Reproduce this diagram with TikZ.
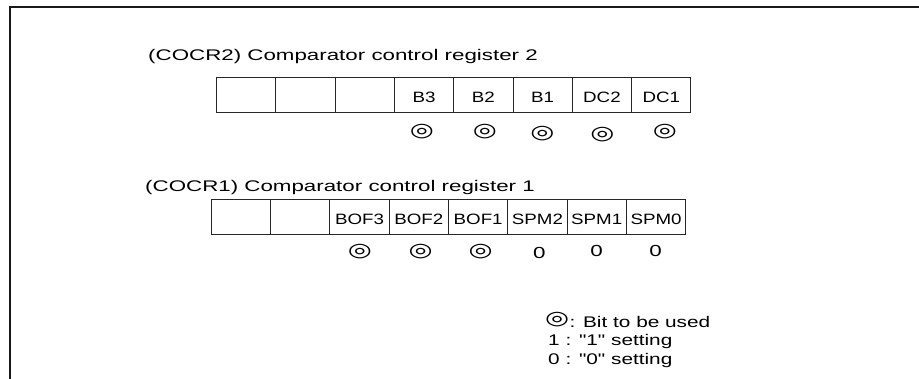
\documentclass[tikz,border=0pt]{standalone}
\usepackage{fontspec}
\usepackage{graphicx}
\setmainfont{Liberation Sans}[Ligatures=TeXOff]
\newfontfamily\symfont{DejaVu Sans}
\newcommand\hs[2][1.4]{\scalebox{#1}[1]{#2}}
\newcommand\hsym{\scalebox{1.45}[1]{\symfont ◎}}
\begin{document}
\begin{tikzpicture}[x=1pt,y=-1pt,
  cell/.style={draw=black!85,line width=0.9pt,minimum width=59.3pt,minimum height=35pt,inner sep=0pt,outer sep=0pt},
  title/.style={anchor=base west,inner sep=0pt,font=\fontsize{15.4}{18}\selectfont},
  bitlabel/.style={anchor=base,inner sep=0pt,font=\fontsize{15}{17}\selectfont},
  used/.style={anchor=center,inner sep=0pt,font=\fontsize{19}{21}\selectfont},
  zero/.style={anchor=base,inner sep=0pt,font=\fontsize{16}{18}\selectfont},
  legend/.style={anchor=base west,inner sep=0pt,font=\fontsize{15.4}{18}\selectfont}]
\useasboundingbox (0,0) rectangle (919,379);
% frame
\draw[line width=1.4pt,black!90] (10,379) -- (10,7) -- (919,7);
% register 2
\node[title] (t2) at (148,61) {\hs[1.45]{(COCR2) Comparator control register 2}};
\foreach \i in {1,...,8} {
  \node[cell] (r2c\i) at ({216.5+59.3*(\i-0.5)},94.7) {};
}
\node[bitlabel] (l2c4) at ([yshift=10pt]r2c4.south) {\hs[1.25]{B3}};
\node[bitlabel] (l2c5) at ([yshift=10pt]r2c5.south) {\hs[1.25]{B2}};
\node[bitlabel] (l2c6) at ([yshift=10pt]r2c6.south) {\hs[1.25]{B1}};
\node[bitlabel] (l2c7) at ([yshift=10pt]r2c7.south) {\hs[1.25]{DC2}};
\node[bitlabel] (l2c8) at ([yshift=10pt]r2c8.south) {\hs[1.25]{DC1}};
\node[used] (u2c4) at (422,131.7) {\hsym};
\node[used] (u2c5) at (485,131.3) {\hsym};
\node[used] (u2c6) at (542.5,133.3) {\hsym};
\node[used] (u2c7) at (602.5,134.3) {\hsym};
\node[used] (u2c8) at (665,131.3) {\hsym};
% register 1
\node[title] (t1) at (145,191.5) {\hs[1.45]{(COCR1) Comparator control register 1}};
\foreach \i in {1,...,8} {
  \node[cell] (r1c\i) at ({211.3+59.3*(\i-0.5)},216.8) {};
}
\node[bitlabel] (l1c3) at ([yshift=10pt]r1c3.south) {\hs[1.25]{BOF3}};
\node[bitlabel] (l1c4) at ([yshift=10pt]r1c4.south) {\hs[1.25]{BOF2}};
\node[bitlabel] (l1c5) at ([yshift=10pt]r1c5.south) {\hs[1.25]{BOF1}};
\node[bitlabel] (l1c6) at ([yshift=10pt]r1c6.south) {\hs[1.25]{SPM2}};
\node[bitlabel] (l1c7) at ([yshift=10pt]r1c7.south) {\hs[1.25]{SPM1}};
\node[bitlabel] (l1c8) at ([yshift=10pt]r1c8.south) {\hs[1.25]{SPM0}};
\node[used] (u1c3) at (360,251.7) {\hsym};
\node[used] (u1c4) at (420.7,251.7) {\hsym};
\node[used] (u1c5) at (480.7,252) {\hsym};
\node[zero] (z1c6) at (539.3,258.3) {\hs[1.4]{0}};
\node[zero] (z1c7) at (596.7,257) {\hs[1.4]{0}};
\node[zero] (z1c8) at (655.7,257) {\hs[1.4]{0}};
% legend
\node[used,anchor=west] (k0) at (545,320) {\hsym};
\node[legend] (k1) at (k0.east |- 0,327.7) {\hs[1.35]{: Bit to be used}};
\node[legend] (k2) at (548,346) {\hs[1.35]{1 : "1" setting}};
\node[legend] (k3) at (548,364.3) {\hs[1.35]{0 : "0" setting}};
\end{tikzpicture}
\end{document}
